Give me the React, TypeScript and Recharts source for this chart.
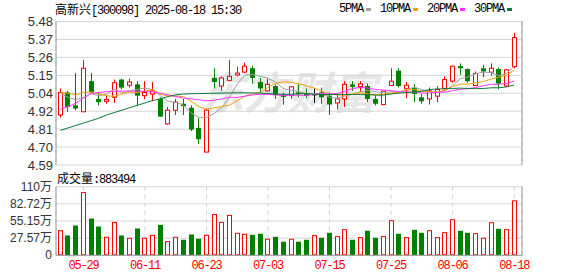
import React from 'react';
import { Bar, BarChart, CartesianGrid, ComposedChart, Line, XAxis, YAxis } from 'recharts';

// 高新兴 daily K-line, 2025-05-26 .. 2025-08-18
const dates = [
  '05-26', '05-27', '05-28', '05-29', '05-30', '06-03', '06-04', '06-05', '06-06', '06-09',
  '06-10', '06-11', '06-12', '06-13', '06-16', '06-17', '06-18', '06-19', '06-20', '06-23',
  '06-24', '06-25', '06-26', '06-27', '06-30', '07-01', '07-02', '07-03', '07-04', '07-07',
  '07-08', '07-09', '07-10', '07-11', '07-14', '07-15', '07-16', '07-17', '07-18', '07-21',
  '07-22', '07-23', '07-24', '07-25', '07-28', '07-29', '07-30', '07-31', '08-01', '08-04',
  '08-05', '08-06', '08-07', '08-08', '08-11', '08-12', '08-13', '08-14', '08-15', '08-18',
];
const opens = [
  4.90, 5.04, 4.96, 4.92, 5.11, 5.00, 4.985, 5.01, 5.12, 5.085,
  5.09, 5.02, 5.03, 5.00, 4.845, 4.93, 4.97, 4.945, 4.82, 4.67,
  5.13, 5.08, 5.115, 5.148, 5.166, 5.19, 5.105, 5.05, 5.08, 5.027,
  5.02, 5.04, 5.035, 5.025, 5.04, 5.02, 4.975, 5.00, 5.09, 5.076,
  5.08, 5.00, 4.965, 5.083, 5.175, 5.063, 5.07, 5.01, 5.00, 5.017,
  5.065, 5.11, 5.203, 5.185, 5.083, 5.19, 5.166, 5.185, 5.08, 5.20,
];
const highs = [
  5.065, 5.05, 5.16, 5.24, 5.16, 5.04, 5.02, 5.12, 5.125, 5.125,
  5.11, 5.11, 5.105, 5.01, 4.95, 5.00, 5.00, 4.96, 4.88, 4.94,
  5.19, 5.14, 5.24, 5.20, 5.225, 5.205, 5.13, 5.125, 5.09, 5.037,
  5.08, 5.09, 5.065, 5.065, 5.07, 5.04, 5.03, 5.11, 5.11, 5.11,
  5.095, 5.025, 5.05, 5.19, 5.19, 5.105, 5.09, 5.03, 5.07, 5.08,
  5.14, 5.205, 5.22, 5.19, 5.17, 5.21, 5.22, 5.195, 5.185, 5.41,
];
const lows = [
  4.885, 4.92, 4.93, 4.92, 5.03, 4.96, 4.97, 4.975, 5.06, 5.07,
  4.955, 5.00, 4.985, 4.89, 4.84, 4.90, 4.90, 4.80, 4.72, 4.67,
  5.065, 5.05, 5.11, 5.14, 5.16, 5.095, 5.04, 5.045, 5.00, 4.964,
  5.00, 5.01, 5.005, 4.975, 4.97, 4.90, 4.935, 4.95, 5.05, 5.045,
  4.98, 4.96, 4.96, 5.08, 5.07, 5.005, 4.98, 4.97, 4.965, 4.98,
  5.057, 5.10, 5.15, 5.10, 5.08, 5.135, 5.145, 5.06, 5.075, 5.19,
];
const closes = [
  5.04, 4.95, 4.94, 5.19, 5.04, 4.98, 4.996, 5.10, 5.07, 5.105,
  5.02, 5.04, 5.05, 4.89, 4.93, 4.98, 4.955, 4.81, 4.75, 4.93,
  5.105, 5.13, 5.14, 5.16, 5.203, 5.13, 5.065, 5.09, 5.023, 5.012,
  5.075, 5.03, 5.02, 5.025, 5.01, 4.965, 5.00, 5.09, 5.075, 5.093,
  5.00, 4.97, 5.048, 5.11, 5.08, 5.085, 5.03, 4.985, 5.05, 5.058,
  5.12, 5.203, 5.19, 5.11, 5.157, 5.17, 5.19, 5.095, 5.18, 5.38,
];
// volume in 万 (10k)
const volumes = [
  40.4, 31.9, 47.9, 101.6, 59.1, 46.3, 29.8, 53.7, 31.9, 28.2,
  43.1, 28.2, 33.0, 48.9, 22.9, 29.8, 25.0, 33.5, 26.6, 33.0,
  66.5, 53.7, 64.9, 36.2, 34.6, 33.0, 34.6, 26.6, 29.8, 21.8,
  26.6, 21.8, 25.0, 32.5, 28.2, 36.2, 30.9, 42.0, 25.0, 29.3,
  39.4, 28.2, 30.9, 56.4, 34.6, 29.3, 41.0, 36.2, 40.4, 29.3,
  37.2, 58.0, 39.4, 36.2, 35.6, 28.2, 53.2, 42.6, 42.0, 88.35,
];
const lastVolume = 883494;

// MA values at the start of the window (their inputs lie before 05-26)
const ma5Head = [5.035, 5.01, 4.995, 5.01];
const ma10Head = [5.04, 5.035, 5.025, 5.04, 5.043, 5.03, 5.02, 5.015, 5.03];
const ma20Head = [
  4.935, 4.952, 4.973, 5.004, 5.033, 5.04, 5.045, 5.047, 5.048, 5.048,
  5.048, 5.047, 5.043, 5.035, 5.025, 5.015, 5.005, 5.0, 4.995,
];
const ma30Head = [
  4.805, 4.82, 4.835, 4.85, 4.865, 4.88, 4.90, 4.915, 4.93, 4.945,
  4.96, 4.975, 4.99, 5.0, 5.015, 5.025, 5.03, 5.032, 5.033, 5.034,
  5.035, 5.036, 5.037, 5.038, 5.038, 5.037, 5.036, 5.033, 5.03,
];

const dateTicks = ['05-29', '06-11', '06-23', '07-03', '07-15', '07-25', '08-06', '08-18'];
const priceTicks = [4.59, 4.70125, 4.8125, 4.92375, 5.035, 5.14625, 5.2575, 5.36875, 5.48];
const priceTickLabels = ['4.59', '4.70', '4.81', '4.92', '5.04', '5.15', '5.26', '5.37', '5.48'];
const volumeTicks = [0, 27.575, 55.15, 82.725, 110.3];
const volumeTickLabels = ['0', '27.57万', '55.15万', '82.72万', '110万'];

const maSeries = [
  { key: 'ma5', name: '5PMA', color: '#a0a0a0' },
  { key: 'ma10', name: '10PMA', color: '#f5a000' },
  { key: 'ma20', name: '20PMA', color: '#ff33ff' },
  { key: 'ma30', name: '30PMA', color: '#0a7a3c' },
];

const RED = '#ff0000';
const GREEN = '#008000';
const BORDER = '#999';
const MONO = '"Liberation Mono", "Noto Sans CJK SC", monospace';
const CJK = '"Noto Sans CJK SC", sans-serif';

const movingAvg = (n: number, head: number[]) =>
  closes.map((_, i) => {
    if (i < n - 1) return head[i];
    let s = 0;
    for (let k = i - n + 1; k <= i; k++) s += closes[k];
    return s / n;
  });

const ma5 = movingAvg(5, ma5Head);
const ma10 = movingAvg(10, ma10Head);
const ma20 = movingAvg(20, ma20Head);
const ma30 = movingAvg(30, ma30Head);

const rows = dates.map((date, i) => ({
  date,
  open: opens[i],
  high: highs[i],
  low: lows[i],
  close: closes[i],
  volume: volumes[i],
  up: i === 0 ? closes[0] >= opens[0] : closes[i] >= closes[i - 1],
  ma5: ma5[i],
  ma10: ma10[i],
  ma20: ma20[i],
  ma30: ma30[i],
}));

const Candle = (props: any) => {
  const { x, y, width, height, payload } = props;
  const { open, close, high, low } = payload;
  const toY = (v: number) => y + ((high - v) / (high - low)) * height;
  const cx = Math.floor(x + width / 2) + 0.5;
  const top = toY(Math.max(open, close));
  const bottom = toY(Math.min(open, close));
  const color = close > open ? RED : close < open ? GREEN : '#000';
  return (
    <g>
      <line x1={cx} x2={cx} y1={y} y2={y + height} stroke={color} strokeWidth={1} />
      {close > open && (
        <rect x={cx - 2} y={top} width={4} height={Math.max(bottom - top, 1)} fill="#fff" stroke={RED} strokeWidth={1} />
      )}
      {close < open && <rect x={cx - 2.5} y={top} width={5} height={Math.max(bottom - top, 1)} fill={GREEN} />}
      {close === open && <line x1={cx - 2.5} x2={cx + 2.5} y1={top} y2={top} stroke="#000" strokeWidth={1} />}
    </g>
  );
};

const VolumeBar = (props: any) => {
  const { x, y, width, height, payload } = props;
  const cx = Math.floor(x + width / 2) + 0.5;
  if (payload.up) {
    return <rect x={cx - 2} y={y + 0.5} width={4} height={Math.max(height - 1, 0)} fill="#fff" stroke={RED} strokeWidth={1} />;
  }
  return <rect x={cx - 2.5} y={y} width={5} height={height} fill={GREEN} />;
};

const PriceTick = ({ x, y, payload }: any) => (
  <text x={x} y={y} textAnchor="end" dominantBaseline="central" fontSize={13} fill="#333"
    fontFamily='"Liberation Sans", Arial, sans-serif'>
    {priceTickLabels[priceTicks.indexOf(payload.value)]}
  </text>
);

const VolumeTick = ({ x, y, payload }: any) => (
  <text x={x} y={y} textAnchor="end" dominantBaseline="central" fontSize={12} fill="#333"
    fontFamily='"Liberation Sans", "Noto Sans CJK SC", sans-serif'>
    {volumeTickLabels[volumeTicks.indexOf(payload.value)]}
  </text>
);

const DateTick = ({ x, y, payload }: any) => (
  <text x={x} y={y + 11} textAnchor="middle" dominantBaseline="central" fontSize={12} fill={RED}
    fontFamily={MONO} style={{ letterSpacing: '-1.2px' }}>
    {payload.value}
  </text>
);

const xPadding = { left: 0.5, right: 4 };

export default function App() {
  return (
    <div style={{ position: 'absolute', left: 0, top: 0, width: 578, height: 276, background: '#fff', overflow: 'hidden' }}>
      <div style={{ position: 'absolute', left: 200, top: 64, fontSize: 44, fontWeight: 700, fontStyle: 'italic', color: '#e6e6e6', fontFamily: CJK, lineHeight: '52px', whiteSpace: 'nowrap' }}>
        东方财富
      </div>

      <div style={{ position: 'absolute', left: 55, top: 3, fontSize: 12, lineHeight: '12px', fontFamily: MONO, color: '#000', whiteSpace: 'nowrap' }}>
        <span style={{ fontFamily: CJK }}>高新兴</span>
        <span style={{ letterSpacing: '-1.2px' }}>[300098] 2025-08-18 15:30</span>
      </div>

      <div style={{ position: 'absolute', left: 339, top: 3, display: 'flex', alignItems: 'center', fontSize: 12, lineHeight: '12px', fontFamily: MONO, color: '#000', whiteSpace: 'nowrap' }}>
        {maSeries.map((m) => (
          <span key={m.key} style={{ display: 'flex', alignItems: 'center', marginRight: 9 }}>
            <span style={{ letterSpacing: '-1.2px' }}>{m.name}</span>
            <span style={{ display: 'inline-block', width: 5, height: 3, marginLeft: 3, background: m.color }} />
          </span>
        ))}
      </div>

      <div style={{ position: 'absolute', left: 0, top: 0 }}>
        <ComposedChart width={578} height={176} data={rows} margin={{ top: 21.5, right: 0, bottom: 11, left: 0 }}>
          <CartesianGrid vertical={false} stroke="#d4d4d4" />
          <CartesianGrid horizontal={false} stroke="#cfcfcf" strokeDasharray="4 4" />
          <XAxis dataKey="date" ticks={dateTicks} interval={0} tick={false} tickLine={false} height={0}
            padding={xPadding} axisLine={{ stroke: BORDER }} />
          <XAxis xAxisId="top" orientation="top" dataKey="date" tick={false} tickLine={false} height={0}
            padding={xPadding} axisLine={{ stroke: BORDER }} />
          <YAxis domain={[4.59, 5.48]} allowDataOverflow ticks={priceTicks} interval={0} width={56}
            tickLine={false} tickSize={0} tickMargin={3} tick={<PriceTick />} axisLine={{ stroke: BORDER }} />
          <YAxis yAxisId="r" orientation="right" domain={[0, 1]} width={56} tick={false} tickLine={false}
            axisLine={{ stroke: BORDER }} />
          <Bar dataKey={(d: any) => [d.low, d.high]} shape={<Candle />} isAnimationActive={false} />
          {maSeries.map((m) => (
            <Line key={m.key} type="linear" dataKey={m.key} stroke={m.color} strokeWidth={1} dot={false}
              activeDot={false} isAnimationActive={false} />
          ))}
        </ComposedChart>
      </div>

      <div style={{ position: 'absolute', left: 57, top: 172, fontSize: 12, lineHeight: '12px', fontFamily: MONO, color: '#000', whiteSpace: 'nowrap' }}>
        <span style={{ fontFamily: CJK }}>成交量</span>
        <span style={{ letterSpacing: '-1.2px' }}>:{lastVolume}</span>
      </div>

      <div style={{ position: 'absolute', left: 0, top: 176 }}>
        <BarChart width={578} height={100} data={rows} margin={{ top: 10.7, right: 0, bottom: 0, left: 0 }}>
          <CartesianGrid vertical={false} stroke="#d4d4d4" />
          <CartesianGrid horizontal={false} stroke="#cfcfcf" strokeDasharray="4 4" />
          <XAxis dataKey="date" ticks={dateTicks} interval={0} tickLine={false} tickSize={0} tickMargin={0}
            height={20.7} padding={xPadding} axisLine={{ stroke: BORDER }} tick={<DateTick />} />
          <XAxis xAxisId="top" orientation="top" dataKey="date" tick={false} tickLine={false} height={0}
            padding={xPadding} axisLine={{ stroke: BORDER }} />
          <YAxis domain={[0, 110.3]} allowDataOverflow ticks={volumeTicks} interval={0} width={56}
            tickLine={false} tickSize={0} tickMargin={4} tick={<VolumeTick />} axisLine={{ stroke: BORDER }} />
          <YAxis yAxisId="r" orientation="right" domain={[0, 1]} width={56} tick={false} tickLine={false}
            axisLine={{ stroke: BORDER }} />
          <Bar dataKey="volume" shape={<VolumeBar />} isAnimationActive={false} />
        </BarChart>
      </div>
    </div>
  );
}
